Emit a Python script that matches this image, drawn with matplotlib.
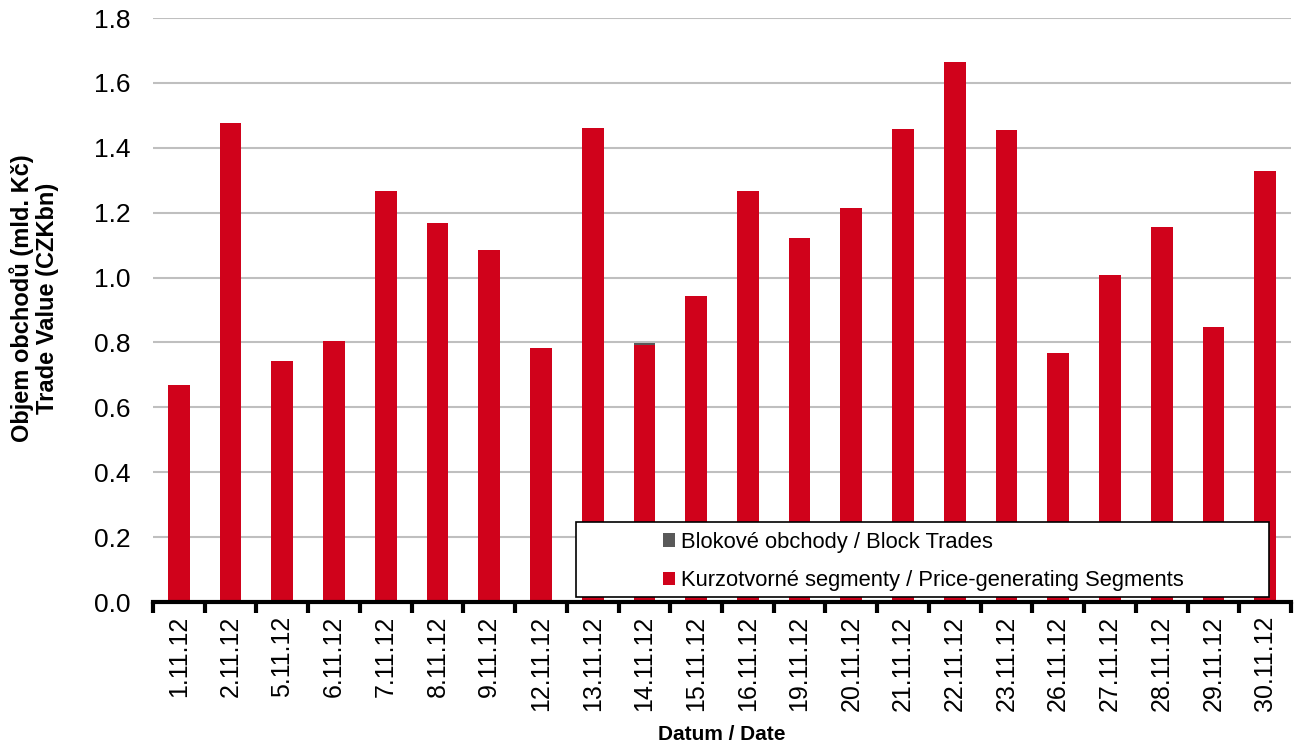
import numpy as np
import matplotlib.pyplot as plt
from matplotlib.patches import Rectangle

plt.rcParams['font.family'] = ['Liberation Sans', 'DejaVu Sans']

dates = ['1.11.12', '2.11.12', '5.11.12', '6.11.12', '7.11.12', '8.11.12', '9.11.12',
         '12.11.12', '13.11.12', '14.11.12', '15.11.12', '16.11.12', '19.11.12', '20.11.12',
         '21.11.12', '22.11.12', '23.11.12', '26.11.12', '27.11.12', '28.11.12', '29.11.12',
         '30.11.12']
# kurzotvorne segmenty / price-generating (mld. Kc)
price_gen = [0.669, 1.477, 0.743, 0.805, 1.267, 1.168, 1.085,
             0.783, 1.461, 0.792, 0.943, 1.267, 1.122, 1.215,
             1.458, 1.665, 1.455, 0.768, 1.008, 1.156, 0.848,
             1.329]
# blokove obchody / block trades
block = [0, 0, 0, 0, 0, 0, 0,
         0, 0, 0.007, 0, 0, 0, 0,
         0, 0, 0, 0, 0, 0, 0,
         0]

red = '#D0021B'
grey = '#595959'

fig = plt.figure(figsize=(12.94, 7.44), dpi=100)
ax = fig.add_axes([153/1294, 1 - 602/744, (1291-153)/1294, (602-18)/744])

x = np.arange(len(dates))
ax.bar(x, price_gen, width=0.42, color=red, zorder=3,
       label='Kurzotvorné segmenty / Price-generating Segments')
ax.bar(x, block, width=0.42, bottom=price_gen, color=grey, zorder=3,
       label='Blokové obchody / Block Trades')

ax.set_xlim(-0.5, len(dates) - 0.5)
ax.set_ylim(0, 1.8)
ax.set_yticks(np.arange(0, 1.81, 0.2))
ax.set_yticklabels(['%.1f' % v for v in np.arange(0, 1.81, 0.2)], fontsize=19)
ax.yaxis.grid(True, color='#BFBFBF', linewidth=1.5, zorder=0)
ax.tick_params(axis='y', length=0, pad=16)

ax.set_xticks(x)
ax.set_xticklabels(dates, rotation=90, fontsize=18)
ax.set_xticks(np.arange(-0.5, len(dates), 1), minor=True)
ax.tick_params(axis='x', which='major', length=0, pad=10)
ax.tick_params(axis='x', which='minor', length=8, width=3, color='black', direction='out')

for s in ['top', 'right', 'left']:
    ax.spines[s].set_visible(False)
ax.spines['bottom'].set_linewidth(3)
ax.spines['bottom'].set_zorder(5)

ax.set_xlabel('Datum / Date', fontsize=15, fontweight='bold', labelpad=10)
ax.set_ylabel('Objem obchodů (mld. Kč)\nTrade Value (CZKbn)', fontsize=17,
              fontweight='bold', linespacing=1.08)
ax.yaxis.set_label_coords(-0.083, 0.52)

# ramecek legendy
box = Rectangle((576/1294, 1 - 597/744), (1269-576)/1294, (597-522)/744,
                transform=fig.transFigure, facecolor='white', edgecolor='black',
                linewidth=1.2, zorder=10)
fig.patches.append(box)
h, l = ax.get_legend_handles_labels()
leg = fig.legend(h[::-1], l[::-1], loc='upper left',
                 bbox_to_anchor=(643/1294, 1 - 512/744), frameon=False,
                 fontsize=15.8, handlelength=0.55, handleheight=0.55, handletextpad=0.3,
                 labelspacing=0.8)
leg.set_zorder(11)

fig.savefig('out.png', dpi=100)
